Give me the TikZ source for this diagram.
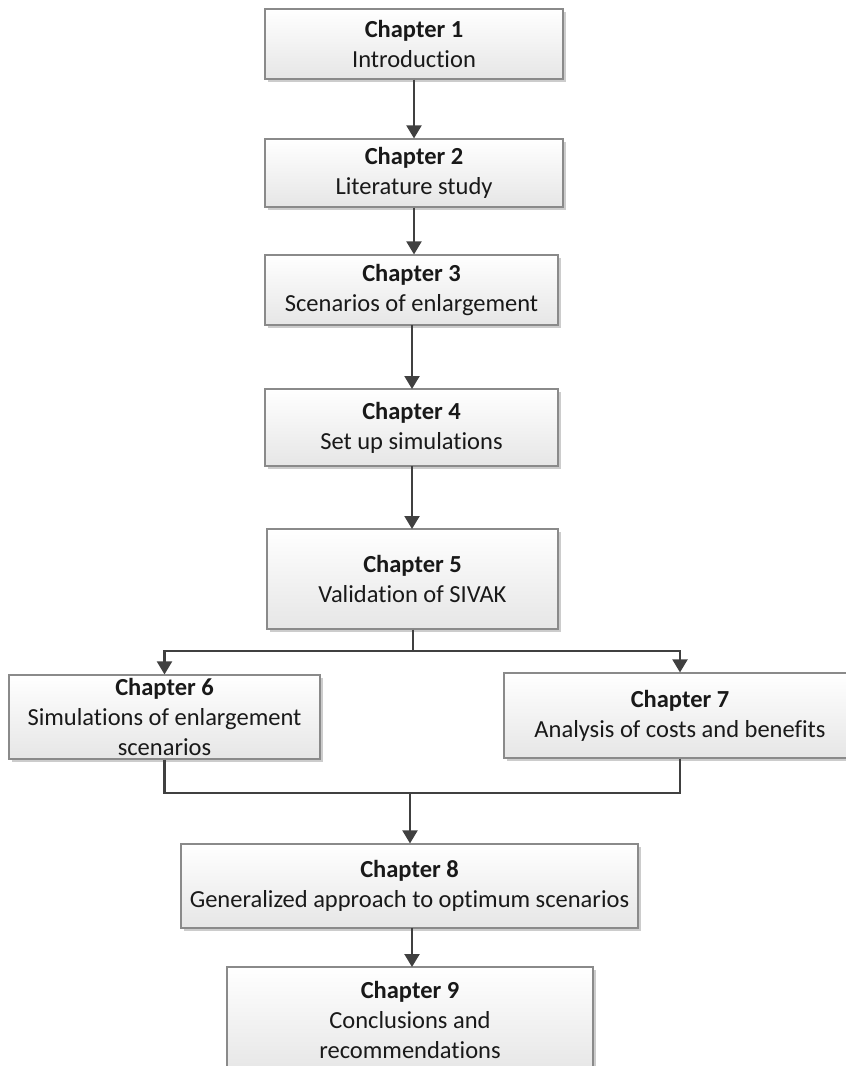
\documentclass[tikz,border=0pt]{standalone}
\usepackage{fontspec}
\setmainfont{Carlito}[Ligatures={NoCommon}]
\usetikzlibrary{arrows.meta,shadows}
\definecolor{linegray}{HTML}{404040}
\definecolor{boxborder}{HTML}{8A8A8A}
\definecolor{boxbottom}{HTML}{E6E6E6}
\begin{document}
\begin{tikzpicture}[x=1pt,y=-1pt,
  chapbox/.style={draw=boxborder, line width=1.2pt, top color=white, bottom color=boxbottom,
    drop shadow={shadow xshift=3pt, shadow yshift=-3pt, opacity=0.2, fill=black},
    inner sep=0pt, align=center, text=black!90,
    font=\fontsize{24.5}{30}\selectfont},
  arr/.style={draw=linegray, line width=2.2pt, -{Triangle[width=15pt,length=13pt]}},
  ln/.style={draw=linegray, line width=2.2pt}
]
\path[use as bounding box] (0,0) rectangle (846,1066);
\clip (0,0) rectangle (846,1066);

\node[chapbox, minimum width=298pt, minimum height=70pt] (b1) at (414,44) {\textbf{Chapter 1}\\Introduction};
\node[chapbox, minimum width=298pt, minimum height=68pt] (b2) at (414,173) {\textbf{Chapter 2}\\Literature study};
\node[chapbox, minimum width=293pt, minimum height=70pt] (b3) at (411.5,290) {\textbf{Chapter 3}\\Scenarios of enlargement};
\node[chapbox, minimum width=293pt, minimum height=77pt] (b4) at (411.5,427.5) {\textbf{Chapter 4}\\Set up simulations};
\node[chapbox, minimum width=291pt, minimum height=100pt] (b5) at (412.5,579) {\textbf{Chapter 5}\\Validation of SIVAK};
\node[chapbox, minimum width=311pt, minimum height=84pt] (b6) at (164.5,717) {\textbf{Chapter 6}\\Simulations of enlargement\\scenarios};
\node[chapbox, minimum width=352pt, minimum height=85pt] (b7) at (680,715.5) {\textbf{Chapter 7}\\Analysis of costs and benefits};
\node[chapbox, minimum width=457pt, minimum height=84pt] (b8) at (409.5,886) {\textbf{Chapter 8}\\Generalized approach to optimum scenarios};
\node[chapbox, minimum width=366pt, minimum height=106pt] (b9) at (410,1020) {\textbf{Chapter 9}\\Conclusions and\\recommendations};

\coordinate (split) at (413,651);
\coordinate (merge) at (410,793);

\draw[arr] (b1.south) -- (b2.north);
\draw[arr] (b2.south) -- (b2.south |- b3.north);
\draw[arr] (412,325) -- (412,389);
\draw[arr] (412,466) -- (412,529);
\draw[ln] (split |- b5.south) -- (split);
\draw[arr] (split) -| (b6.north);
\draw[arr] (split) -| (b7.north);
\draw[ln] (b6.south) |- (merge);
\draw[ln] (b7.south) |- (merge);
\draw[arr] (merge) -- (merge |- b8.north);
\draw[arr] (412,928) -- (412,967);
\end{tikzpicture}
\end{document}
